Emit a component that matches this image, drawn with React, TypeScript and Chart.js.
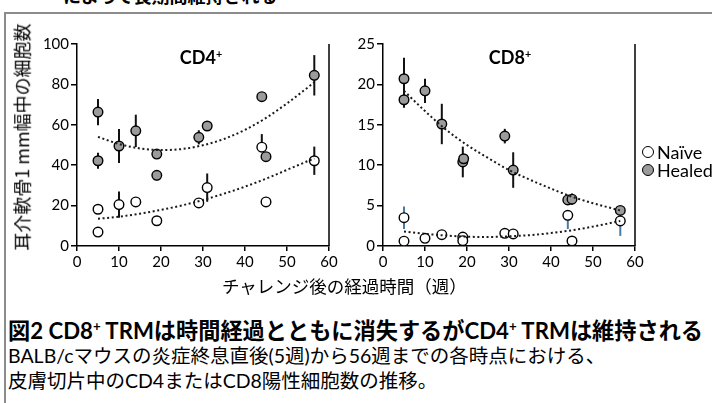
import React, { useEffect, useLayoutEffect, useRef, useState } from 'react';
import { Chart, registerables } from 'chart.js';

Chart.register(...registerables);

// ---------- data ----------
const xTickLabels = [0, 10, 20, 30, 40, 50, 60];
const cd4YTickLabels = [0, 20, 40, 60, 80, 100];
const cd8YTickLabels = [0, 5, 10, 15, 20, 25];

// CD4+ Healed
const cd4HealedWeeks = [5, 5, 10, 14, 19, 19, 29, 31, 44, 45, 56.5];
const cd4HealedCells = [66.3, 42.2, 49.5, 57, 45.5, 35, 53.8, 59.4, 73.9, 44.2, 84.5];
const cd4HealedErrUp = [6.5, 4, 8.4, 8, 0, 2.5, 3.5, 0, 0, 0, 10];
const cd4HealedErrDown = [6.5, 4, 8.4, 8, 0, 2.5, 3.5, 0, 0, 0, 10];

// CD4+ Naive
const cd4NaiveWeeks = [5, 5, 10, 14, 19, 29, 31, 44, 45, 56.5];
const cd4NaiveCells = [18.2, 6.9, 20.5, 21.8, 12.5, 21.3, 28.9, 48.9, 21.8, 42.2];
const cd4NaiveErrUp = [0, 0, 6.5, 0, 0, 0, 7, 6.5, 0, 7];
const cd4NaiveErrDown = [0, 0, 6.5, 0, 0, 0, 7, 0, 0, 7];

// CD8+ Healed
const cd8HealedWeeks = [5, 5, 10, 14, 19, 19.2, 29, 31, 44, 45, 56.5];
const cd8HealedCells = [20.7, 18.1, 19.2, 15.1, 10.4, 10.8, 13.6, 9.4, 5.7, 5.8, 4.4];
const cd8HealedErrUp = [2.6, 1, 1.5, 2.5, 1.9, 0, 0.9, 2.2, 0, 0.7, 0];
const cd8HealedErrDown = [2.6, 1, 1.5, 2.5, 1.9, 0, 0.9, 2.2, 0, 0.7, 0];

// CD8+ Naive
const cd8NaiveWeeks = [5, 5, 10, 14, 19, 19, 29, 31, 44, 45, 56.5];
const cd8NaiveCells = [3.5, 0.6, 0.95, 1.4, 1.1, 0.66, 1.57, 1.49, 3.8, 0.62, 3.1];
const cd8NaiveErrUp = [1.4, 0, 0, 0, 0, 0, 0, 0, 0, 0, 0];
const cd8NaiveErrDown = [1.4, 0, 0, 0, 0, 0, 0, 0, 1.7, 0, 1.85];

// dotted trend lines
const trendWeeks = [5, 10, 15, 20, 25, 30, 35, 40, 45, 50, 56.5];
const cd4HealedTrend = [54.0, 50.5, 48.3, 47.5, 48.0, 49.9, 53.0, 57.5, 63.4, 70.6, 81.0];
const cd4NaiveTrend = [13.5, 14.5, 16.0, 17.9, 20.1, 22.8, 25.9, 29.4, 33.3, 37.7, 43.4];
const cd8HealedTrend = [19.2, 16.7, 14.4, 12.5, 10.9, 9.4, 8.2, 7.1, 6.1, 5.3, 4.4];
const cd8NaiveTrend = [1.8, 1.5, 1.3, 1.15, 1.12, 1.2, 1.34, 1.6, 1.95, 2.4, 3.1];

// ---------- styling ----------
const TICK_FONT = 'Lato, "Noto Sans", sans-serif';
const JP_FONT = '"Noto Sans CJK JP", sans-serif';
const MIX_FONT = 'Lato, "Noto Sans CJK JP", sans-serif';
const HEALED_FILL = '#9b9b9b';

const pts = (xs: number[], ys: number[]) => xs.map((x, i) => ({ x, y: ys[i] }));

const errorBarPlugin = {
  id: 'errorBars',
  beforeDatasetsDraw(chart: any) {
    const ctx = chart.ctx;
    const xs = chart.scales.x;
    const ys = chart.scales.y;
    chart.data.datasets.forEach((ds: any) => {
      if (!ds.errUp) return;
      ctx.save();
      ctx.strokeStyle = ds.errColor || '#000';
      ctx.lineWidth = 2;
      ds.data.forEach((p: any, i: number) => {
        const up = ds.errUp[i] || 0;
        const dn = ds.errDown[i] || 0;
        if (!up && !dn) return;
        const px = xs.getPixelForValue(p.x);
        ctx.beginPath();
        ctx.moveTo(px, ys.getPixelForValue(p.y + up));
        ctx.lineTo(px, ys.getPixelForValue(p.y - dn));
        ctx.stroke();
      });
      ctx.restore();
    });
  },
  afterDraw(chart: any) {
    const { ctx, chartArea } = chart;
    ctx.save();
    ctx.strokeStyle = '#000';
    ctx.lineWidth = 1.5;
    ctx.beginPath();
    ctx.moveTo(chartArea.right, chartArea.top);
    ctx.lineTo(chartArea.right, chartArea.bottom);
    ctx.stroke();
    ctx.restore();
  },
};

type Series = {
  naive: { x: number[]; y: number[]; up: number[]; down: number[]; errColor: string };
  healed: { x: number[]; y: number[]; up: number[]; down: number[] };
  naiveTrend: number[];
  healedTrend: number[];
};

function Panel({ left, width, height, pad, yTicks, s }: any) {
  const ref = useRef<HTMLCanvasElement>(null);
  useEffect(() => {
    const series: Series = s;
    const trendStyle = {
      type: 'line',
      borderColor: '#1a1a1a',
      borderWidth: 2,
      borderDash: [2, 2.6],
      borderCapStyle: 'butt',
      pointRadius: 0,
      fill: false,
      cubicInterpolationMode: 'monotone',
      order: 0,
    };
    const chart = new Chart(ref.current as HTMLCanvasElement, {
      type: 'scatter',
      data: {
        datasets: [
          { ...trendStyle, data: pts(trendWeeks, series.naiveTrend) } as any,
          { ...trendStyle, data: pts(trendWeeks, series.healedTrend) } as any,
          {
            type: 'scatter',
            label: 'Naïve',
            data: pts(series.naive.x, series.naive.y),
            backgroundColor: '#ffffff',
            borderColor: '#000',
            borderWidth: 1.4,
            pointRadius: 4.8,
            order: 1,
            errUp: series.naive.up,
            errDown: series.naive.down,
            errColor: series.naive.errColor,
          } as any,
          {
            type: 'scatter',
            label: 'Healed',
            data: pts(series.healed.x, series.healed.y),
            backgroundColor: HEALED_FILL,
            borderColor: '#000',
            borderWidth: 1.4,
            pointRadius: 4.8,
            order: 2,
            errUp: series.healed.up,
            errDown: series.healed.down,
            errColor: '#111',
          } as any,
        ],
      },
      options: {
        responsive: false,
        animation: false,
        devicePixelRatio: 1,
        events: [],
        layout: { padding: pad },
        plugins: { legend: { display: false }, tooltip: { enabled: false } },
        scales: {
          x: {
            type: 'linear',
            min: xTickLabels[0],
            max: xTickLabels[xTickLabels.length - 1],
            ticks: {
              stepSize: xTickLabels[1] - xTickLabels[0],
              font: { family: TICK_FONT, size: 15 },
              color: '#000',
              padding: 2,
              maxRotation: 0,
              autoSkip: false,
            },
            grid: { drawOnChartArea: false, drawTicks: true, tickLength: 5, color: '#000', lineWidth: 1.5 },
            border: { display: true, color: '#000', width: 1.5 },
            afterFit: (sc: any) => {
              sc.height = 24;
            },
          },
          y: {
            type: 'linear',
            min: yTicks[0],
            max: yTicks[yTicks.length - 1],
            ticks: {
              stepSize: yTicks[1] - yTicks[0],
              font: { family: TICK_FONT, size: 15 },
              color: '#000',
              padding: 2,
              autoSkip: false,
            },
            grid: { drawOnChartArea: false, drawTicks: true, tickLength: 6, color: '#000', lineWidth: 1.5 },
            border: { display: true, color: '#000', width: 1.5 },
            afterFit: (sc: any) => {
              sc.width = 40;
            },
          },
        },
      } as any,
      plugins: [errorBarPlugin],
    });
    return () => chart.destroy();
  }, []);
  return (
    <canvas
      ref={ref}
      width={width}
      height={height}
      style={{ position: 'absolute', left, top: 0, width, height }}
    />
  );
}

function FitText({ x, cy, w, fixed = false, rotate = false, weight = 400, base = 18, family = JP_FONT, children }: any) {
  const ref = useRef<HTMLSpanElement>(null);
  const [size, setSize] = useState(base);
  const n = useRef(0);
  useLayoutEffect(() => {
    if (fixed) return;
    const el = ref.current;
    if (!el) return;
    const mw = el.offsetWidth;
    if (mw > 0 && Math.abs(mw - w) > 0.5 && n.current < 8) {
      n.current += 1;
      setSize(size * (w / mw));
    }
  }, [size, w, fixed]);
  const transform = rotate ? 'translate(-50%, -50%) rotate(-90deg)' : 'translateY(-50%)';
  return (
    <span
      ref={ref}
      style={{
        position: 'absolute',
        left: x,
        top: cy,
        transform,
        whiteSpace: 'nowrap',
        fontSize: size,
        lineHeight: 1.2,
        fontWeight: weight,
        fontFamily: family,
        color: '#000',
      }}
    >
      {children}
    </span>
  );
}

const Sup = () => (
  <span style={{ fontSize: '0.6em', position: 'relative', top: '-0.6em' }}>+</span>
);

function LegendRow({ y, fill, label }: any) {
  return (
    <div style={{ position: 'absolute', left: 642, top: y, transform: 'translateY(-50%)', display: 'flex', alignItems: 'center' }}>
      <span
        style={{
          display: 'inline-block',
          boxSizing: 'border-box',
          width: 12,
          height: 12,
          borderRadius: '50%',
          border: '1.4px solid #000',
          background: fill,
          marginRight: 3,
        }}
      />
      <span style={{ fontFamily: TICK_FONT, fontSize: 18, lineHeight: 1, color: '#000' }}>{label}</span>
    </div>
  );
}

export default function App() {
  const cd4: Series = {
    naive: { x: cd4NaiveWeeks, y: cd4NaiveCells, up: cd4NaiveErrUp, down: cd4NaiveErrDown, errColor: '#111' },
    healed: { x: cd4HealedWeeks, y: cd4HealedCells, up: cd4HealedErrUp, down: cd4HealedErrDown },
    naiveTrend: cd4NaiveTrend,
    healedTrend: cd4HealedTrend,
  };
  const cd8: Series = {
    naive: { x: cd8NaiveWeeks, y: cd8NaiveCells, up: cd8NaiveErrUp, down: cd8NaiveErrDown, errColor: '#4a7aa6' },
    healed: { x: cd8HealedWeeks, y: cd8HealedCells, up: cd8HealedErrUp, down: cd8HealedErrDown },
    naiveTrend: cd8NaiveTrend,
    healedTrend: cd8HealedTrend,
  };
  return (
    <div
      style={{
        position: 'absolute',
        left: 0,
        top: 0,
        width: 712,
        height: 403,
        overflow: 'hidden',
        background: '#fff',
      }}
    >
      <FitText x={63} cy={-4} w={214} base={17} weight={700}>によって長期間維持される</FitText>
      <div
        style={{
          position: 'absolute',
          left: 4,
          top: 12,
          width: 900,
          height: 600,
          border: '2px solid #8c8c8c',
          boxSizing: 'border-box',
        }}
      />
      <Panel left={0} width={345} height={290} pad={{ left: 37, top: 44, right: 16, bottom: 20 }} yTicks={cd4YTickLabels} s={cd4} />
      <Panel left={340} width={310} height={290} pad={{ left: 3, top: 44, right: 15, bottom: 20 }} yTicks={cd8YTickLabels} s={cd8} />

      <div style={{ position: 'absolute', left: 201, top: 58, transform: 'translate(-50%, -50%)', fontFamily: TICK_FONT, fontWeight: 700, fontSize: 18, lineHeight: 1.2, whiteSpace: 'nowrap' }}>
        CD4<Sup />
      </div>
      <div style={{ position: 'absolute', left: 510, top: 58, transform: 'translate(-50%, -50%)', fontFamily: TICK_FONT, fontWeight: 700, fontSize: 18, lineHeight: 1.2, whiteSpace: 'nowrap' }}>
        CD8<Sup />
      </div>

      <LegendRow y={152} fill="#fff" label="Naïve" />
      <LegendRow y={170} fill={HEALED_FILL} label="Healed" />

      <FitText x={21.5} cy={136.5} w={227} rotate base={18}>耳介軟骨1 mm幅中の細胞数</FitText>
      <FitText x={222} cy={285} w={245} base={17}>チャレンジ後の経過時間（週）</FitText>

      <FitText x={8} cy={331} w={695} weight={700} base={20} family={MIX_FONT}>
        図2 CD8<Sup /> TRMは時間経過とともに消失するがCD4<Sup /> TRMは維持される
      </FitText>
      <FitText x={8} cy={356} w={640} fixed base={19.5} family={MIX_FONT}>
        BALB/cマウスの炎症終息直後(5週)から56週までの各時点における、
      </FitText>
      <FitText x={8} cy={381} w={389} fixed base={19.5} family={MIX_FONT}>
        皮膚切片中のCD4またはCD8陽性細胞数の推移。
      </FitText>
    </div>
  );
}
